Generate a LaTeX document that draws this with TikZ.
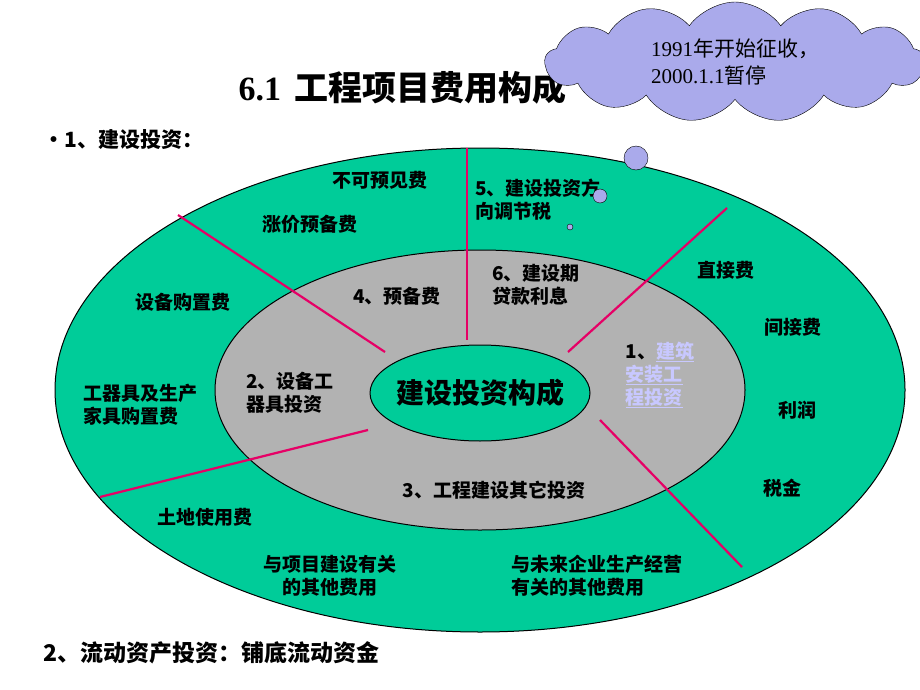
\documentclass[tikz,border=0pt]{standalone}
\usepackage{fontspec}
\setmainfont{Noto Sans CJK SC}
\newfontfamily\serif{Liberation Serif}
\newfontfamily\cjkr{Noto Sans CJK SC}
\usetikzlibrary{shapes.symbols}
\definecolor{teal}{RGB}{0,204,153}
\definecolor{grayf}{RGB}{178,178,178}
\definecolor{redl}{RGB}{230,0,102}
\definecolor{lav}{RGB}{170,170,235}
\definecolor{linkc}{RGB}{200,200,255}
\tikzset{lab/.style={font=\fontsize{19}{23}\selectfont\bfseries, align=center, inner sep=0pt},
 sep/.style={draw=redl, line width=2.2pt},
 ell/.style={draw=black, line width=1pt}}
\begin{document}
\begin{tikzpicture}[x=1pt,y=-1pt]
\useasboundingbox (0,0) rectangle (920,690);
\fill[white] (0,0) rectangle (920,690);
\node[font=\fontsize{34}{38}\selectfont\bfseries, anchor=west] (title) at (235,88) {{\serif 6.1}\, 工程项目费用构成};
\node[font=\fontsize{21}{24}\selectfont\bfseries, anchor=west] (h1) at (40,140) {•1、建设投资：};
\node[font=\fontsize{23}{26}\selectfont\bfseries, anchor=west] (h2) at (40,653) {2、流动资产投资：铺底流动资金};
\path[ell, fill=teal] (480,390) ellipse [x radius=425, y radius=242];
\path[ell, fill=grayf] (480,390) ellipse [x radius=265, y radius=140];
\coordinate (a1) at (178,215); \coordinate (a2) at (385,352);
\coordinate (b1) at (467,148); \coordinate (b2) at (467,340);
\coordinate (c1) at (727,208); \coordinate (c2) at (568,352);
\coordinate (d1) at (100,497); \coordinate (d2) at (368,430);
\coordinate (e1) at (600,420); \coordinate (e2) at (742,567);
\draw[sep] (a1)--(a2); \draw[sep] (b1)--(b2); \draw[sep] (c1)--(c2);
\draw[sep] (d1)--(d2); \draw[sep] (e1)--(e2);
\path[ell, fill=teal] (480,393) ellipse [x radius=110, y radius=48];
\node[font=\fontsize{28}{30}\selectfont\bfseries] (core) at (480,393) {建设投资构成};
\node[lab] (t1) at (380,180) {不可预见费};
\node[lab] (t2) at (310,224) {涨价预备费};
\node[lab, align=left] (t3) at (538,200) {5、建设投资方\\向调节税};
\node[lab] (t4) at (183,302) {设备购置费};
\node[lab] (t5) at (397,296) {4、预备费};
\node[lab, align=left] (t6) at (536,285) {6、建设期\\贷款利息};
\node[lab] (t7) at (726,270) {直接费};
\node[lab] (t8) at (793,327) {间接费};
\node[lab] (t9) at (797,410) {利润};
\node[lab] (t10) at (782,488) {税金};
\node[lab, align=left] (t11) at (140,405) {工器具及生产\\家具购置费};
\node[lab, align=left] (t12) at (290,393) {2、设备工\\器具投资};
\node[lab, align=left] (t13) at (660,375) {1、\textcolor{linkc}{\underline{建筑}}\\\textcolor{linkc}{\underline{安装工}}\\\textcolor{linkc}{\underline{程投资}}};
\node[lab] (t14) at (494,490) {3、工程建设其它投资};
\node[lab] (t15) at (205,517) {土地使用费};
\node[lab] (t16) at (330,576) {与项目建设有关\\的其他费用};
\node[lab, align=left] (t17) at (597,576) {与未来企业生产经营\\有关的其他费用};
\node[cloud, cloud puffs=13, cloud puff arc=110, aspect=3.2, draw=black, fill=lav, minimum width=380, minimum height=120, align=left, font=\fontsize{21}{27}\selectfont] (cl) at (735,62) {{\serif 1991}年开始征收，\\{\serif 2000.1.1}暂停};
\node[circle, draw=black, fill=lav, minimum size=24, inner sep=0] (p1) at (636,158) {};
\node[circle, draw=black, fill=lav, minimum size=14, inner sep=0] (p2) at (600,196) {};
\node[circle, draw=black, fill=lav, minimum size=6, inner sep=0] (p3) at (570,227) {};
\end{tikzpicture}
\end{document}
